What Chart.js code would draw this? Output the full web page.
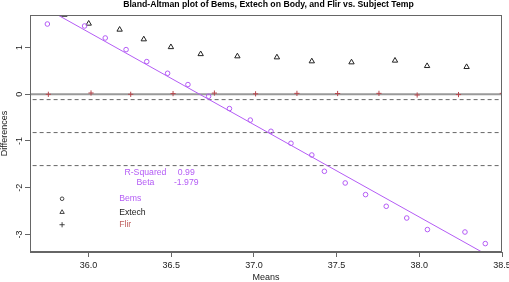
<!DOCTYPE html>
<html>
<head>
<meta charset="utf-8">
<script src="https://cdn.jsdelivr.net/npm/chart.js@4"></script>
<style>
  html, body { margin: 0; padding: 0; background: #fff; }
  #wrap { width: 509px; height: 282px; }
</style>
</head>
<body>
<div id="wrap"><canvas id="c" width="509" height="282"></canvas></div>
<script>
// ---- data ----
const chartTitle = "Bland-Altman plot of Bems, Extech on Body, and Flir vs. Subject Temp";
const xTitle = "Means";
const yTitle = "Differences";

const bemsX = [35.751, 35.976, 36.101, 36.227, 36.352, 36.478, 36.601, 36.726, 36.852, 36.978, 37.103,
               37.224, 37.350, 37.426, 37.552, 37.675, 37.800, 37.924, 38.049, 38.276, 38.399];
const bemsY = [1.505, 1.463, 1.206, 0.957, 0.700, 0.450, 0.208, -0.043, -0.306, -0.552, -0.792,
               -1.049, -1.300, -1.649, -1.899, -2.148, -2.398, -2.649, -2.897, -2.949, -3.197];

const extechX = [35.854, 36.001, 36.188, 36.334, 36.498, 36.678, 36.900, 37.139, 37.350, 37.590, 37.853, 38.047, 38.286];
const extechY = [1.705, 1.514, 1.385, 1.178, 1.011, 0.861, 0.814, 0.792, 0.707, 0.685, 0.722, 0.606, 0.585];

const flirX = [35.757, 36.015, 36.255, 36.511, 36.761, 37.010, 37.260, 37.506, 37.756, 37.987, 38.237, 38.502];
const flirY = [0.000, 0.028, 0.000, 0.015, 0.026, 0.010, 0.020, 0.017, 0.020, -0.015, -0.006, 0.020];

const fitSlope = -1.979;
const fitIntercept = 72.574;
const rSquaredText = "0.99";
const betaText = "-1.979";

const zeroLine = [0];
const limitLines = [-0.114, -0.820, -1.527];

const xTicks = [36.0, 36.5, 37.0, 37.5, 38.0, 38.5];
const yTicks = [-3, -2, -1, 0, 1];
const xRange = [35.646, 38.5];
const yRange = [-3.377, 1.698];

const legendNames = ["Bems", "Extech", "Flir"];

// ---- styles ----
const FONT = "'Liberation Sans', Arial, Helvetica, sans-serif";
const purple = "#B45CF5";
const flirColor = "#B8474D";
const flirText = "#C0605F";
const axisColor = "#666666";

const pts = (xs, ys) => xs.map((x, i) => ({ x: x, y: ys[i] }));
const hline = (v) => [{ x: xRange[0] - 1, y: v }, { x: xRange[1] + 1, y: v }];
const fitLine = [xRange[0] - 1, xRange[1] + 1].map(x => ({ x: x, y: fitIntercept + fitSlope * x }));

const datasets = [
  { label: "zero", type: "line", data: hline(zeroLine[0]), borderColor: "#9a9a9a", borderWidth: 2,
    pointRadius: 0, fill: false, showLine: true, clip: 0, order: 5 },
  ...limitLines.map(v => ({ label: "limit", type: "line", data: hline(v), borderColor: "#666666",
    borderWidth: 1, borderDash: [4, 3], pointRadius: 0, fill: false, showLine: true, clip: 0, order: 5 })),
  { label: "fit", type: "line", data: fitLine, borderColor: purple, borderWidth: 1,
    pointRadius: 0, fill: false, showLine: true, clip: 0, order: 4 },
  { label: legendNames[0], data: pts(bemsX, bemsY), pointStyle: "circle", pointRadius: 2.3,
    pointBorderColor: purple, pointBackgroundColor: "rgba(0,0,0,0)", pointBorderWidth: 1, showLine: false, clip: 0, order: 1 },
  { label: legendNames[1], data: pts(extechX, extechY), pointStyle: "triangle", pointRadius: 3.1,
    pointBorderColor: "#222222", pointBackgroundColor: "rgba(0,0,0,0)", pointBorderWidth: 1, showLine: false, clip: 0, order: 2 },
  { label: legendNames[2], data: pts(flirX, flirY), pointStyle: "cross", pointRadius: 2.6,
    pointBorderColor: flirColor, pointBackgroundColor: flirColor, pointBorderWidth: 1, showLine: false, clip: 0, order: 3 }
];

const decor = {
  id: "decor",
  afterDraw(chart) {
    const ctx = chart.ctx, a = chart.chartArea;
    const xs = chart.scales.x, ys = chart.scales.y;
    ctx.save();
    // box
    ctx.strokeStyle = axisColor; ctx.lineWidth = 1;
    ctx.strokeRect(Math.round(a.left) + 0.5, Math.round(a.top) + 0.5,
                   Math.round(a.right - a.left) - 1, Math.round(a.bottom - a.top) - 1);
    // title
    ctx.fillStyle = "#000";
    ctx.font = "bold 8.7px " + FONT;
    ctx.textAlign = "center"; ctx.textBaseline = "middle";
    ctx.fillText(chartTitle, (a.left + a.right) / 2 + 2.5, 5);
    // stats annotation
    ctx.font = "8.7px " + FONT;
    ctx.fillStyle = purple;
    const sx1 = xs.getPixelForValue(36.344), sx2 = xs.getPixelForValue(36.591);
    const ry = ys.getPixelForValue(-1.676), by = ys.getPixelForValue(-1.89);
    ctx.fillText("R-Squared", sx1, ry);
    ctx.fillText(rSquaredText, sx2, ry);
    ctx.fillText("Beta", sx1, by);
    ctx.fillText(betaText, sx2, by);
    // legend
    const lx = xs.getPixelForValue(35.84);
    const tx = xs.getPixelForValue(36.185);
    const ly = [-2.237, -2.523, -2.793].map(v => ys.getPixelForValue(v));
    const txtCols = [purple, "#222222", flirText];
    ctx.strokeStyle = "#333"; ctx.lineWidth = 0.9;
    // circle
    ctx.beginPath(); ctx.arc(lx, ly[0], 1.8, 0, Math.PI * 2); ctx.stroke();
    // triangle
    const r = 2.4;
    ctx.beginPath();
    ctx.moveTo(lx, ly[1] - r);
    ctx.lineTo(lx + r * 0.866 * 1.05, ly[1] + r * 0.55);
    ctx.lineTo(lx - r * 0.866 * 1.05, ly[1] + r * 0.55);
    ctx.closePath(); ctx.stroke();
    // plus
    ctx.beginPath();
    ctx.moveTo(lx - 2.6, ly[2]); ctx.lineTo(lx + 2.6, ly[2]);
    ctx.moveTo(lx, ly[2] - 2.6); ctx.lineTo(lx, ly[2] + 2.6);
    ctx.stroke();
    ctx.textAlign = "left";
    legendNames.forEach((n, i) => { ctx.fillStyle = txtCols[i]; ctx.fillText(n, tx, ly[i]); });
    ctx.restore();
  }
};

new Chart(document.getElementById("c"), {
  type: "scatter",
  data: { datasets: datasets },
  plugins: [decor],
  options: {
    responsive: false,
    animation: false,
    devicePixelRatio: 1,
    layout: { padding: { left: 0, right: 7, top: 15, bottom: 0 } },
    plugins: { legend: { display: false }, tooltip: { enabled: false }, title: { display: false } },
    scales: {
      x: {
        type: "linear", min: xRange[0], max: xRange[1],
        afterBuildTicks: (s) => { s.ticks = xTicks.map(v => ({ value: v })); },
        afterFit: (s) => { s.height = 30; s.paddingLeft = 0; s.paddingRight = 0; },
        grid: { drawOnChartArea: false, drawTicks: true, tickLength: 5, tickColor: axisColor },
        border: { display: true, color: axisColor, width: 1 },
        ticks: { font: { family: FONT, size: 9 }, color: "#222", padding: 3, maxRotation: 0, minRotation: 0,
                 autoSkip: false, callback: (v) => Number(v).toFixed(1) },
        title: { display: true, text: xTitle, font: { family: FONT, size: 9, lineHeight: 1 }, color: "#222",
                 padding: 0 }
      },
      y: {
        type: "linear", min: yRange[0], max: yRange[1],
        afterBuildTicks: (s) => { s.ticks = yTicks.map(v => ({ value: v })); },
        afterFit: (s) => { s.width = 30; s.paddingTop = 0; s.paddingBottom = 0; },
        grid: { drawOnChartArea: false, drawTicks: true, tickLength: 5, tickColor: axisColor },
        border: { display: true, color: axisColor, width: 1 },
        ticks: { font: { family: FONT, size: 9 }, color: "#222", padding: 1, minRotation: 90, maxRotation: 90,
                 crossAlign: "center", autoSkip: false, callback: (v) => String(v) },
        title: { display: true, text: yTitle, font: { family: FONT, size: 9, lineHeight: 1 }, color: "#222",
                 padding: 0 }
      }
    }
  }
});
</script>
</body>
</html>
